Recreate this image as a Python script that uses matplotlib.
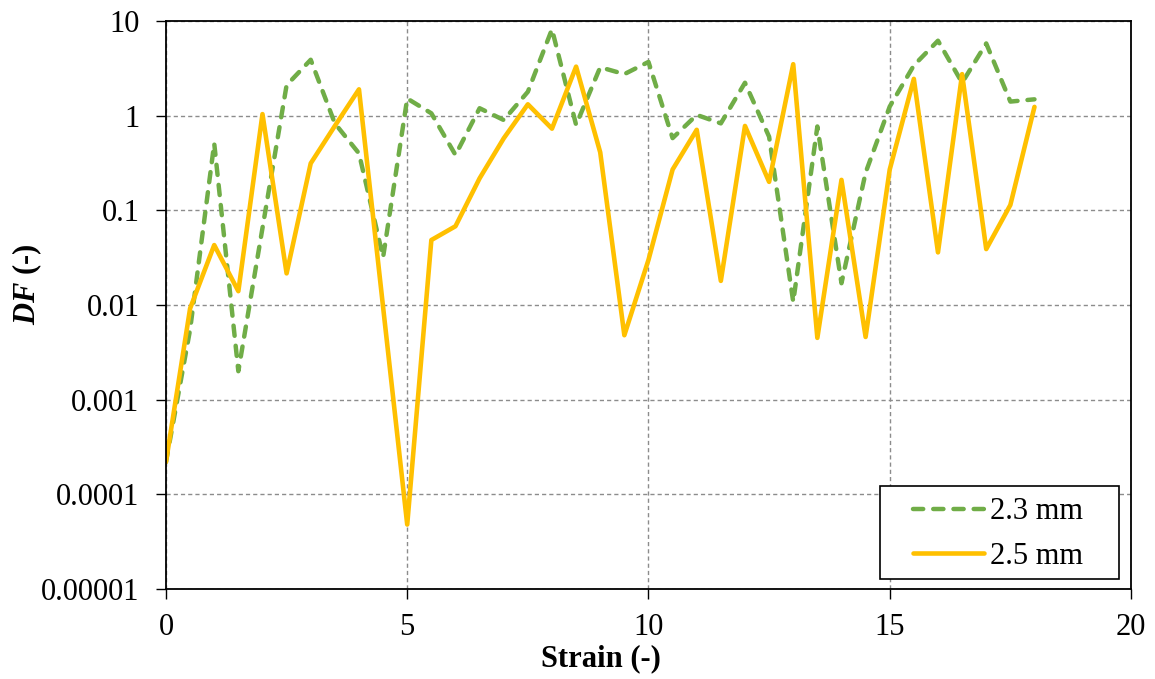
import matplotlib

matplotlib.use("Agg")
import matplotlib.pyplot as plt
from matplotlib.patches import Rectangle
from matplotlib.ticker import FixedLocator, FixedFormatter, NullLocator

plt.rcParams["font.family"] = ["Liberation Serif", "DejaVu Serif"]
plt.rcParams["mathtext.fontset"] = "custom"
plt.rcParams["mathtext.it"] = "Liberation Serif:italic:bold"

# Strain steps and dissipation factor per wire diameter
strain = [0.0, 0.5, 1.0, 1.5, 2.0, 2.5, 3.0, 3.5, 4.0, 4.5,
          5.0, 5.5, 6.0, 6.5, 7.0, 7.5, 8.0, 8.5, 9.0, 9.5,
          10.0, 10.5, 11.0, 11.5, 12.0, 12.5, 13.0, 13.5, 14.0, 14.5,
          15.0, 15.5, 16.0, 16.5, 17.0, 17.5, 18.0]

df_23mm = [2.2e-4, 0.0055, 0.51, 0.0020, 0.065, 2.1, 3.9, 0.83, 0.40, 0.032,
           1.52, 1.06, 0.385, 1.2, 0.90, 1.79, 8.2, 0.80, 3.25, 2.75,
           3.7, 0.58, 1.02, 0.83, 2.23, 0.60, 0.0108, 0.77, 0.017, 0.25,
           1.25, 3.4, 6.2, 2.23, 5.8, 1.41, 1.49]

df_25mm = [2.2e-4, 0.0092, 0.043, 0.014, 1.04, 0.0216, 0.314, 0.78, 1.9, 0.0095,
           4.8e-5, 0.0486, 0.068, 0.218, 0.577, 1.32, 0.73, 3.3, 0.41, 0.0048,
           0.030, 0.27, 0.71, 0.0180, 0.78, 0.20, 3.5, 0.0045, 0.21, 0.0046,
           0.27, 2.45, 0.036, 2.75, 0.039, 0.114, 1.24]

series_labels = ["2.3 mm", "2.5 mm"]
y_ticks = [1e-5, 1e-4, 1e-3, 1e-2, 1e-1, 1, 10]
y_tick_labels = ["0.00001", "0.0001", "0.001", "0.01", "0.1", "1", "10"]
x_ticks = [0, 5, 10, 15, 20]

FONT_SIZE = 22

fig = plt.figure(figsize=(11.55, 6.79), dpi=100)
ax = fig.add_axes([0.1437, 0.1325, 0.8355, 0.8365])

green, = ax.plot(strain, df_23mm, color="#70AD47", linewidth=3.2,
                 dash_capstyle="round", label=series_labels[0])
green.set_dashes([2.3, 2.25])
ax.plot(strain, df_25mm, color="#FFC000", linewidth=3.3,
        solid_capstyle="round", label=series_labels[1])

ax.set_yscale("log")
ax.set_xlim(0, 20)
ax.set_ylim(1e-5, 10)
ax.xaxis.set_major_locator(FixedLocator(x_ticks))
ax.yaxis.set_major_locator(FixedLocator(y_ticks))
ax.yaxis.set_major_formatter(FixedFormatter(y_tick_labels))
ax.yaxis.set_minor_locator(NullLocator())

ax.grid(True, color="#8c8c8c", linestyle=(0, (3, 2.2)), linewidth=1.0)
ax.set_axisbelow(True)
for spine in ax.spines.values():
    spine.set_color("black")
    spine.set_linewidth(1.3)
ax.tick_params(axis="both", which="major", direction="out", length=7,
               width=1.0, labelsize=FONT_SIZE, color="black")
ax.tick_params(axis="y", pad=12)
ax.tick_params(axis="x", pad=10)

ax.set_xlabel("Strain (-)", fontsize=FONT_SIZE, fontweight="bold")
ax.xaxis.set_label_coords(0.451, -0.097)
ax.set_ylabel(r"$DF$ (-)", fontsize=FONT_SIZE, fontweight="bold", va="center")
ax.yaxis.set_label_coords(-0.144, 0.537)

# legend entries without frame, boxed by a separate rectangle
leg = ax.legend(loc="center left", bbox_to_anchor=(0.7741, 0.0968),
                borderaxespad=0, borderpad=0, fontsize=FONT_SIZE,
                frameon=False, handlelength=2.32, handletextpad=0.2,
                labelspacing=0.5)
ax.add_patch(Rectangle((0.7399, 0.0176), 0.2477, 0.1637,
                       transform=ax.transAxes, facecolor="white",
                       edgecolor="black", linewidth=1.2, zorder=4))
leg.set_zorder(5)

fig.savefig("out.png", dpi=100)
